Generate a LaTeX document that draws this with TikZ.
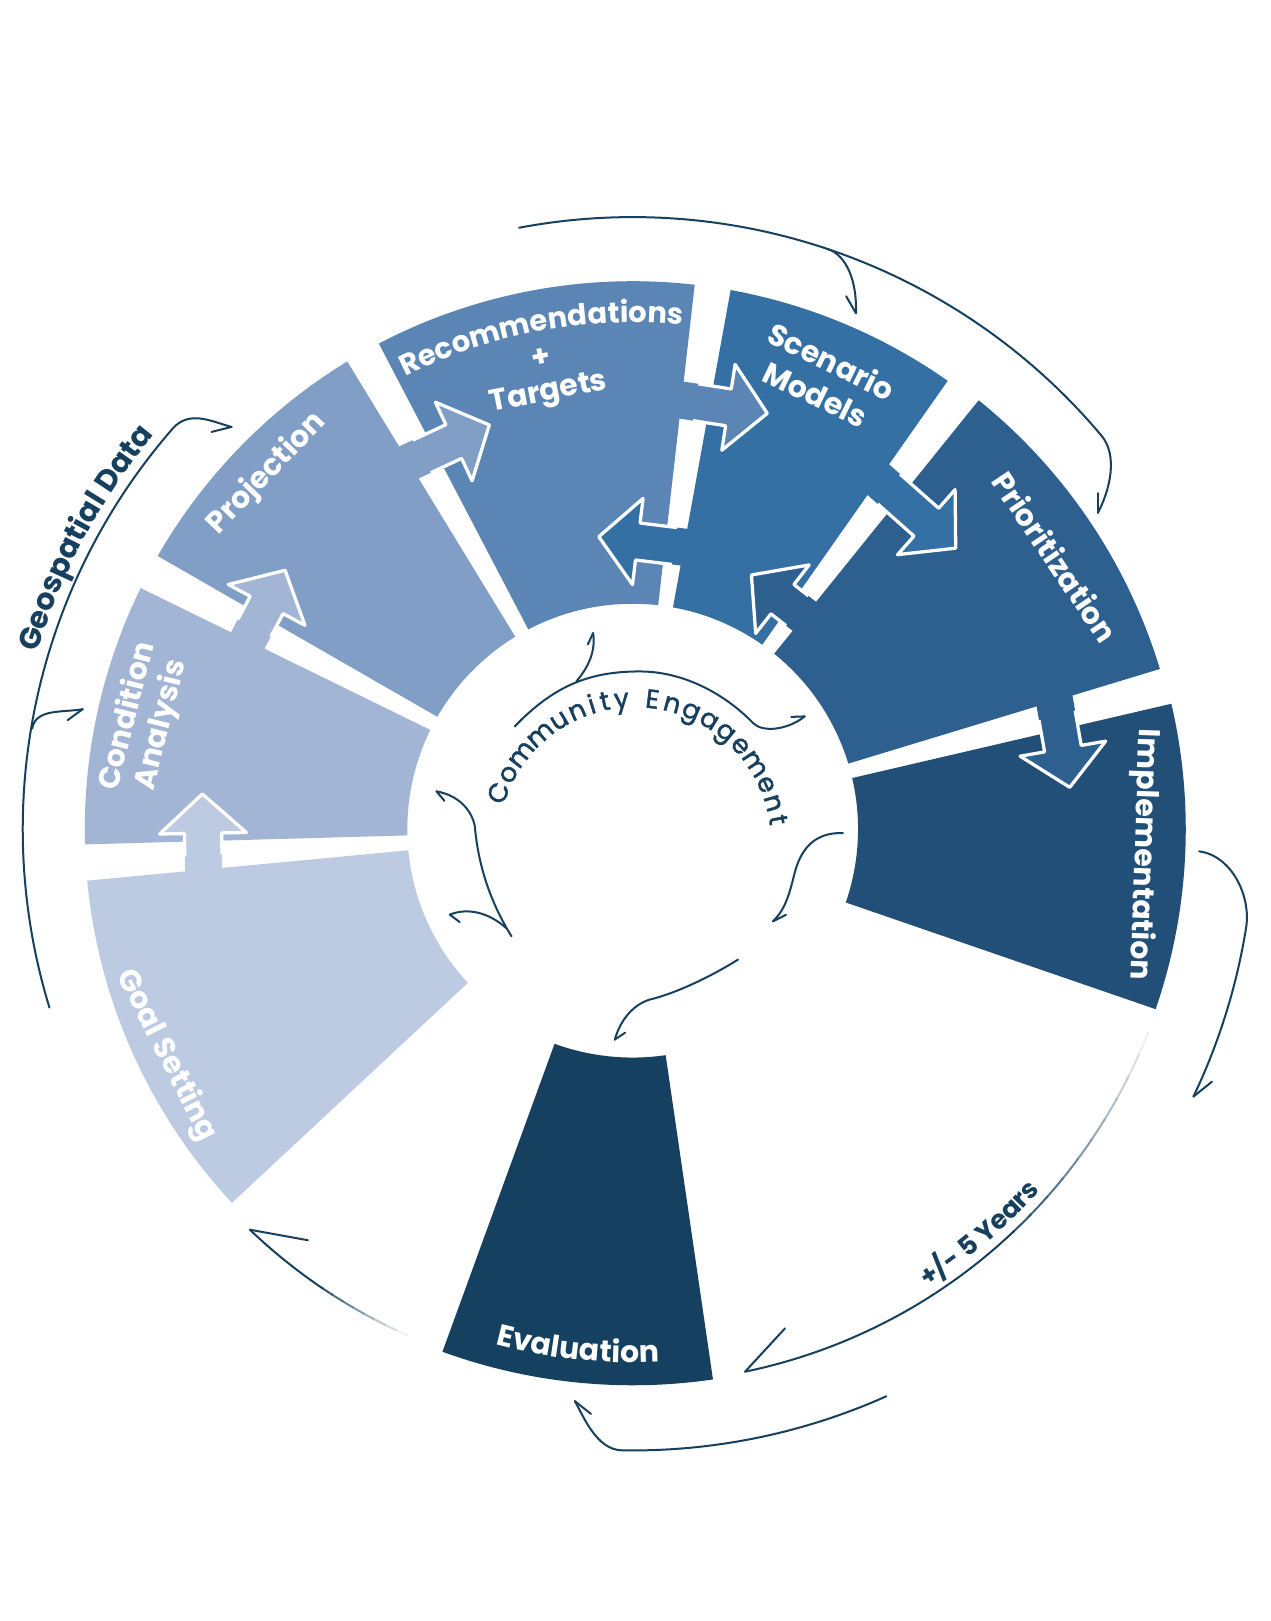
\documentclass[tikz,border=0pt]{standalone}
\usepackage{fontspec}
\setmainfont{Poppins}
\newfontfamily\cefont{Poppins}[FakeBold=1.6]
\usetikzlibrary{decorations.text}
\definecolor{cgoal}{HTML}{BCCBE1}
\definecolor{ccond}{HTML}{A3B5D4}
\definecolor{cproj}{HTML}{819FC6}
\definecolor{crec}{HTML}{5A85B4}
\definecolor{cscen}{HTML}{3570A5}
\definecolor{cprio}{HTML}{2D5F8F}
\definecolor{cimpl}{HTML}{224F78}
\definecolor{ceval}{HTML}{15405F}
\definecolor{navy}{HTML}{17405E}

\newcommand{\ringpart}[5]{% color a1 a2 rin rout
 \fill[#1] (#2:#4) arc[start angle=#2, end angle=#3, radius=#4] -- (#3:#5) arc[start angle=#3, end angle=#2, radius=#5] -- cycle;}

\newcommand{\blockarrow}[6]{% tail, direction, shaft length, colour, gap angle, side
 \begin{scope}[shift={#1},rotate=#2]
  \fill[#4] (-14,-18) -- (#3,-18) -- (#3,-42) -- ({#3+38},0) -- (#3,42) -- (#3,18) -- (-14,18) -- cycle;
 \end{scope}
 \begin{scope}
  \clip[rotate=#5] (-3000,0) rectangle (3000,{#6*3000});
  \begin{scope}[shift={#1},rotate=#2]
   \draw[white,line width=1.8pt,line join=round] (-14,-18) -- (#3,-18) -- (#3,-42) -- ({#3+38},0) -- (#3,42) -- (#3,18) -- (-14,18);
  \end{scope}
 \end{scope}}

\tikzset{
 wlabel/.style={text=white, font=\bfseries\fontsize{16.5}{20}\selectfont, inner sep=0pt, align=center},
 conn/.style={draw=navy, line width=1.1pt, line cap=round, line join=round},
 cetext/.style={text=navy, font=\cefont\fontsize{14.5}{15}\selectfont, inner sep=0pt, anchor=base},
}

\begin{document}
\begin{tikzpicture}[x=0.02cm,y=0.02cm]
\useasboundingbox (-612,-766) rectangle (617,802);
\fill[white] (-612,-766) rectangle (617,802);

% ring segments
\ringpart{cgoal}{185.4}{223}{218}{530}
\ringpart{ccond}{153.9}{181.6}{218}{530}
\ringpart{cproj}{121.4}{150.1}{218}{530}
\ringpart{crec}{83.5}{117.6}{218}{530}
\ringpart{cscen}{54.9}{79.7}{218}{530}
\ringpart{cprio}{16.9}{51.1}{218}{533}
\ringpart{cimpl}{-19}{13.1}{218}{535}
\ringpart{ceval}{250}{278.3}{221}{538}

% block arrows
\blockarrow{(-415,-39)}{91}{35}{cgoal}{183.5}{-1}
\blockarrow{(-372.4,182.4)}{62}{39}{ccond}{152}{-1}
\blockarrow{(-216.6,354.6)}{25}{48}{cproj}{119.5}{-1}
\blockarrow{(47.2,415)}{-8.8}{46}{crec}{81.6}{-1}
\blockarrow{(49.6,272.7)}{173}{45}{cscen}{81.6}{1}
\blockarrow{(237.6,338)}{-41.5}{62}{cscen}{53}{-1}
\blockarrow{(166.1,205.8)}{142}{27}{cprio}{53}{1}
\blockarrow{(408,124.1)}{-80}{47}{cprio}{15}{-1}

% labels
\node[wlabel, rotate=-63] (goal) at (-451,-219) {Goal Setting};
\node[wlabel, rotate=76, font=\bfseries\fontsize{16.5}{19}\selectfont] (cond) at (-472,105) {Condition\\Analysis};
\node[wlabel, rotate=46] (proj) at (-354,344) {Projection};
\path[decorate, decoration={text along path, text={|\bfseries\fontsize{16}{20}\selectfont|Recommendations}, text align=center, text color=white}] (125:490) arc[start angle=125, end angle=76, radius=490];
\node[wlabel, rotate=11] (plus) at (-89,456) {+};
\node[wlabel, rotate=11] (targets) at (-81,421) {Targets};
\node[wlabel, rotate=-26] (scen) at (185,437) {Scenario\\Models};
\node[wlabel, rotate=-56] (prio) at (409,263.4) {Prioritization};
\node[wlabel, rotate=-92] (impl) at (493.5,-24.6) {Implementation};
\path[decorate, decoration={text along path, text={|\bfseries\fontsize{16.5}{20}\selectfont|Evaluation}, text align=center, text color=white}] (245:516) arc[start angle=245, end angle=283, radius=516];

% outer texts
\path[decorate, decoration={text along path, text={|\bfseries\fontsize{16.5}{20}\selectfont|Geospatial Data}, text align=center, text color=navy}] (175:600) arc[start angle=175, end angle=129, radius=600];
\path[decorate, decoration={text along path, text={|\bfseries\fontsize{14.5}{18}\selectfont|+/- 5 Years}, text align=center, text color=navy}] (-69.4:527) arc[start angle=-69.4, end angle=-29.4, radius=527];

% community engagement text
\begin{scope}[shift={(2,-14)}]
\foreach \l/\a in {C/159.6, o/151.2, m/141.8, m/130.9, u/121.5, n/113.5, i/107.2, t/101.9, y/95.3, E/83.0, n/75.0, g/66.9, a/58.9, g/50.8, e/42.8, m/33.5, e/24.2, n/16.3, t/9.4}
  \node[cetext, rotate=\a-90] at (\a:132) {\l};
\end{scope}

% inner connectors
\coordinate (ceTopTip) at (166.4,109);
\coordinate (ceUpTip) at (-38.3,189.6);
\coordinate (ceLTip) at (-189.8,36.5);
\coordinate (ceL2Tip) at (-176.9,-82.7);
\coordinate (ceRTip) at (135.7,-89.2);
\coordinate (ceBTip) at (-17.3,-203.6);
\draw[conn] (-114,99.4) .. controls (-75,140) and (-40,152.5) .. (6.8,152.5) .. controls (55,152.5) and (95,125) .. (116.4,102.6) .. controls (126,93) and (150,96) .. (ceTopTip);
\draw[conn] (ceTopTip) -- ++(182:13);
\draw[conn] (-54.4,142.9) .. controls (-47,152) and (-35,168) .. (ceUpTip);
\draw[conn] (ceUpTip) -- ++(245:12);
\draw[conn] (-117.2,-103.7) .. controls (-135,-75) and (-149,-40) .. (-152.7,2.7) .. controls (-156,20) and (-170,33) .. (ceLTip);
\draw[conn] (ceLTip) -- ++(-50:12);
\draw[conn] (-122,-96) .. controls (-140,-80) and (-160,-76) .. (ceL2Tip);
\draw[conn] (ceL2Tip) -- ++(-37:12);
\draw[conn] (203.4,-3.8) .. controls (175,-3) and (162,-20) .. (156,-45) .. controls (150,-70) and (145,-80) .. (ceRTip);
\draw[conn] (ceRTip) -- ++(26.6:14);
\draw[conn] (101.9,-126.2) .. controls (80,-140) and (45,-158) .. (16.5,-164.9) .. controls (0,-170) and (-12,-185) .. (ceBTip);
\draw[conn] (ceBTip) -- ++(33.7:12);

% outer connectors
\coordinate (geoTip) at (-388,389);
\coordinate (geoBTip) at (-532,116);
\coordinate (geoB) at (170.5:589);
\draw[conn] (197:590) arc[start angle=197, end angle=139, radius=590] .. controls (-428.9,406) and (-407.3,394.2) .. (geoTip);
\draw[conn] (geoTip) -- ++(194:20);
\draw[conn] (geoB) .. controls (-577.5,116.9) and (-551.7,112.5) .. (geoBTip);
\draw[conn] (geoBTip) -- ++(216:18);

\coordinate (topTip) at (450,306);
\coordinate (topB) at (71.4:592);
\coordinate (topBTip) at (216,499);
\draw[conn] (100.7:592) arc[start angle=100.7, end angle=40, radius=592] .. controls (469.6,361.4) and (461.7,328) .. (topTip);
\draw[conn] (topTip) -- ++(90:19);
\draw[conn] (topB) .. controls (207,555) and (217,530) .. (topBTip);
\draw[conn] (topBTip) -- ++(120:19);

\coordinate (rStart) at (548,-21.5);
\coordinate (rTip) at (-25.5:601);
\draw[conn] (rStart) .. controls (580,-26) and (598.1,-65.4) .. (-9.1:601) arc[start angle=-9.1, end angle=-25.5, radius=601];
\draw[conn] (rTip) -- ++(38.8:23);

% +/- 5 years arc with fade
\foreach \i in {0,...,9}{
  \pgfmathsetmacro{\sa}{-21.5-2.5*\i}
  \pgfmathsetmacro{\ea}{\sa-2.7}
  \pgfmathsetmacro{\pp}{8+9*\i}
  \draw[line width=1.1pt, draw=navy!\pp!white] (\sa:536) arc[start angle=\sa, end angle=\ea, radius=536];
}
\coordinate (fiveTip) at (-78.3:536);
\draw[conn] (-46.5:536) arc[start angle=-46.5, end angle=-78.3, radius=536];
\draw[conn] (fiveTip) -- ++(47.3:57);

\coordinate (botTip) at (-56,-553.3);
\draw[conn] (-65.9:601) arc[start angle=-65.9, end angle=-91, radius=601] .. controls (-35.5,-600.5) and (-48.3,-566.2) .. (botTip);
\draw[conn] (botTip) -- ++(-38.4:20);

% lower-left arc with fade
\foreach \i in {0,...,7}{
  \pgfmathsetmacro{\sa}{246-1.25*\i}
  \pgfmathsetmacro{\ea}{\sa-1.4}
  \pgfmathsetmacro{\pp}{8+11*\i}
  \draw[line width=1.1pt, draw=navy!\pp!white] (\sa:536) arc[start angle=\sa, end angle=\ea, radius=536];
}
\coordinate (llTip) at (226.3:536);
\draw[conn] (236:536) arc[start angle=236, end angle=226.3, radius=536];
\draw[conn] (llTip) -- ++(-10.3:57);
\end{tikzpicture}
\end{document}
